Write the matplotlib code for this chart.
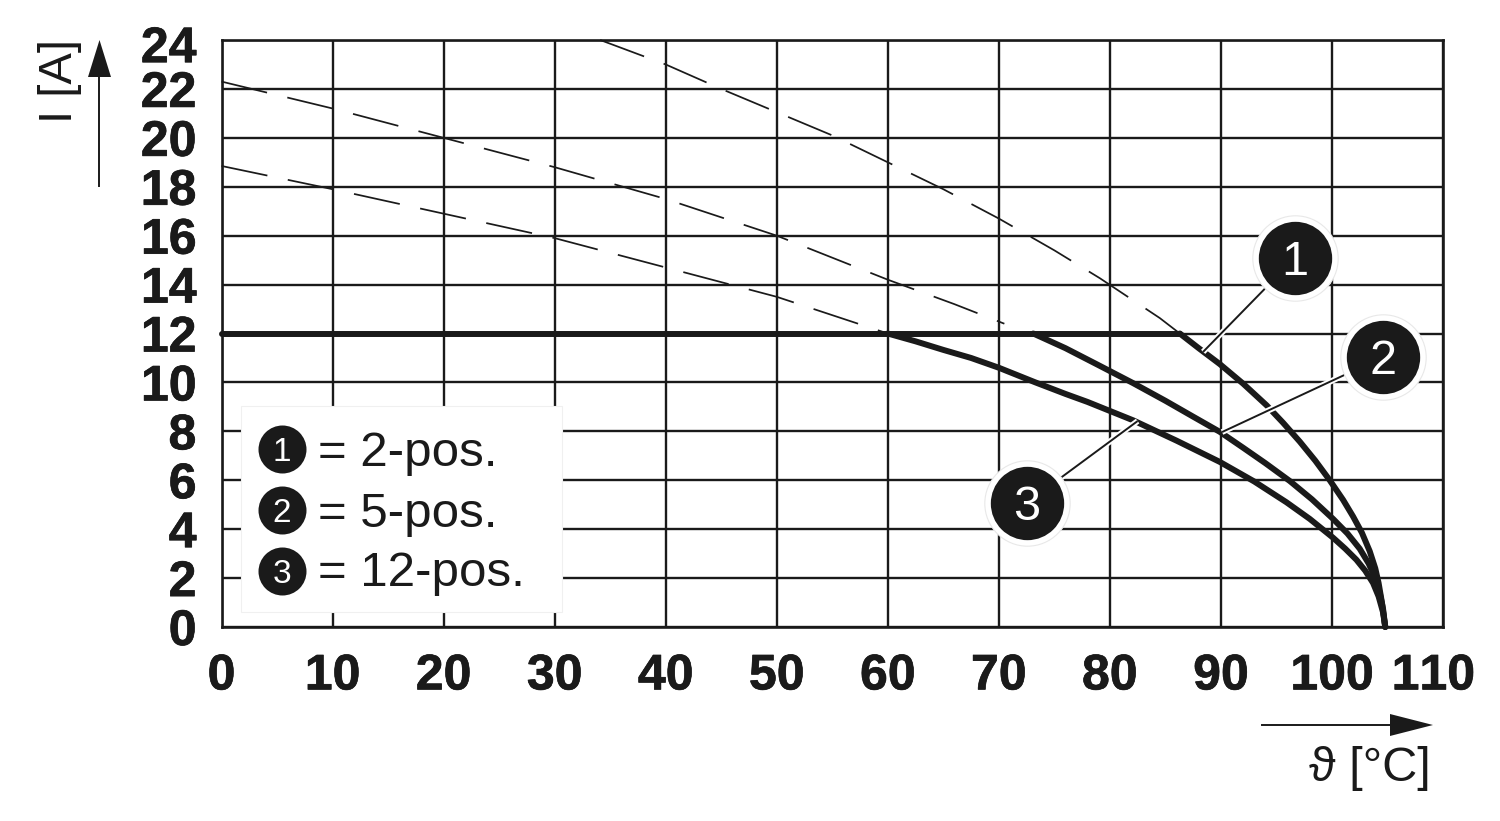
import matplotlib
matplotlib.use('Agg')
import matplotlib.pyplot as plt
import matplotlib.patheffects as pe
from matplotlib.patches import Rectangle
from matplotlib.transforms import ScaledTranslation

plt.rcParams['font.family'] = ['Liberation Sans', 'DejaVu Sans']
plt.rcParams['text.kerning_factor'] = 12

x_ticks = list(range(0, 111, 10))
y_ticks = list(range(0, 25, 2))

flat_x = [0, 86.3]
flat_y = [12, 12]

c1_x = [86.3, 88, 89.9, 92, 94.1, 95.6, 97.1, 98.5, 99.8, 101, 101.9, 102.7, 103.4, 103.9, 104.2, 104.5, 104.8]
c1_y = [12, 11.4, 10.75, 9.95, 9.07, 8.35, 7.58, 6.8, 6.0, 5.2, 4.52, 3.85, 3.1, 2.4, 1.8, 1.0, 0]
c2_x = [73.1, 76, 79, 82.1, 85, 87.5, 89.9, 92, 94, 96.2, 98.2, 100.1, 101.4, 102.5, 103.3, 103.9, 104.3, 104.6, 104.8]
c2_y = [12, 11.4, 10.7, 9.97, 9.25, 8.6, 7.98, 7.33, 6.7, 5.97, 5.22, 4.42, 3.82, 3.2, 2.6, 2.0, 1.4, 0.75, 0]
c3_x = [60, 62.5, 65, 67.5, 70, 73.3, 76, 78, 82.1, 86, 89.9, 93, 95.9, 98, 100.1, 101.2, 102.2, 103, 103.7, 104.2, 104.6, 104.8]
c3_y = [12, 11.68, 11.33, 11, 10.6, 10, 9.53, 9.2, 8.45, 7.62, 6.75, 5.95, 5.1, 4.42, 3.65, 3.2, 2.75, 2.3, 1.8, 1.25, 0.6, 0]

d1_x = [34.1, 40, 45, 50, 55, 60, 65, 70, 75, 79.1, 84.5, 86.3]
d1_y = [24, 23, 22, 21.05, 20.1, 19, 17.9, 16.7, 15.4, 14.26, 12.63, 12]
d2_x = [0, 10, 20, 30, 40, 50, 60, 66, 70.5]
d2_y = [22.3, 21.2, 20, 18.8, 17.5, 16, 14.2, 13.2, 12.4]
d3_x = [0, 10, 20, 30, 40, 50, 60]
d3_y = [18.85, 17.9, 16.9, 15.9, 14.7, 13.5, 12]

legend_labels = ['= 2-pos.', '= 5-pos.', '= 12-pos.']
marker_labels = ['1', '2', '3']
callout_xy = [(96.67, 15.09), (104.6, 11.04), (72.5, 5.07)]
callout_tip = [(88.4, 11.25), (90.1, 7.97), (82.5, 8.42)]
legend_xy = [(5.45, 7.26), (5.45, 4.78), (5.45, 2.31)]
legend_base = [6.58, 4.10, 1.69]

INK = '#1a1a1a'
W, H = 1500, 821
fig = plt.figure(figsize=(W/100, H/100), dpi=100, facecolor='white')
ax = fig.add_axes([221.5/W, 1-627/H, (1443-221.5)/W, (627-40)/H])
ax.set_xlim(0, 110)
ax.set_ylim(0, 24)
ax.set_xticks(x_ticks)
ax.set_yticks(y_ticks)
ax.grid(True, color=INK, lw=1.7)
ax.set_axisbelow(True)
ax.tick_params(length=0, labelsize=36, labelcolor=INK)
ax.tick_params(axis='x', pad=19)
ax.tick_params(axis='y', pad=18)
heavy = [pe.withStroke(linewidth=0.5, foreground=INK)]
for lab in ax.get_xticklabels() + ax.get_yticklabels():
    lab.set_fontweight('bold')
    lab.set_path_effects(heavy)
lab_110 = ax.get_xticklabels()[-1]
lab_110.set_transform(lab_110.get_transform() + ScaledTranslation(-7/72, 0, fig.dpi_scale_trans))
lab_24 = ax.get_yticklabels()[-1]
lab_24.set_transform(lab_24.get_transform() + ScaledTranslation(0, -3/72, fig.dpi_scale_trans))
for s in ax.spines.values():
    s.set_linewidth(1.9)
    s.set_color(INK)

for xs, ys in [(d1_x, d1_y), (d2_x, d2_y), (d3_x, d3_y)]:
    ax.plot(xs, ys, color=INK, lw=1.25, ls=(0, (27, 12)), zorder=3, clip_on=False)

ax.plot(flat_x, flat_y, color=INK, lw=4.3, zorder=5, clip_on=False, solid_capstyle='round')
for xs, ys in [(c1_x, c1_y), (c2_x, c2_y), (c3_x, c3_y)]:
    ax.plot(xs, ys, color=INK, lw=4.3, zorder=5, clip_on=False,
            solid_capstyle='round', solid_joinstyle='round')

# Legend panel
ax.add_patch(Rectangle((1.75, 0.61), 28.95, 8.42, fc='white', ec='#f0f0f0', lw=0.8, zorder=6))
for (lx, ly), base, m, lab in zip(legend_xy, legend_base, marker_labels, legend_labels):
    ax.scatter([lx], [ly], s=1194, color=INK, linewidths=0, zorder=7)
    ax.text(lx, ly, m, color='white', fontsize=24, ha='center', va='center_baseline', zorder=8)
    ax.text(8.7, base, lab, color=INK, fontsize=35.5, ha='left', va='baseline', zorder=8)

# Callouts
for (cx, cy), (tx, ty), m in zip(callout_xy, callout_tip, marker_labels):
    ax.plot([cx, tx], [cy, ty], color='white', lw=4.2, zorder=6, clip_on=False, solid_capstyle='butt')
    ax.plot([cx, tx], [cy, ty], color=INK, lw=1.4, zorder=7, clip_on=False, solid_capstyle='butt')
    ax.scatter([cx], [cy], s=3780, color='white', edgecolors='#e8e8e8', linewidths=0.8, zorder=8, clip_on=False)
    ax.scatter([cx], [cy], s=2790, color=INK, linewidths=0, zorder=9, clip_on=False)
    ax.text(cx, cy, m, color='white', fontsize=35, ha='center', va='center_baseline', zorder=10)

# Axis arrows and labels
tr = fig.transFigure
def fx(p): return p / W
def fy(p): return 1 - p / H
fig.add_artist(plt.Line2D([fx(99.5), fx(99.5)], [fy(186), fy(70)], color=INK, lw=1.4))
fig.add_artist(plt.Polygon([[fx(99.5), fy(40)], [fx(88), fy(77)], [fx(111), fy(77)]],
                           closed=True, color=INK, lw=0, transform=tr))
fig.text(fx(60), fy(81), 'I [A]', rotation=90, fontsize=34, color=INK, ha='center', va='center')
fig.add_artist(plt.Line2D([fx(1262), fx(1395)], [fy(725), fy(725)], color=INK, lw=1.4))
fig.add_artist(plt.Polygon([[fx(1433), fy(725)], [fx(1390), fy(714)], [fx(1390), fy(736)]],
                           closed=True, color=INK, lw=0, transform=tr))
fig.text(fx(1431), fy(768), '\u03d1 [°C]', fontsize=35, color=INK, ha='right', va='center',
         family=['Liberation Sans', 'DejaVu Serif'])

fig.savefig('out.png', dpi=100)
